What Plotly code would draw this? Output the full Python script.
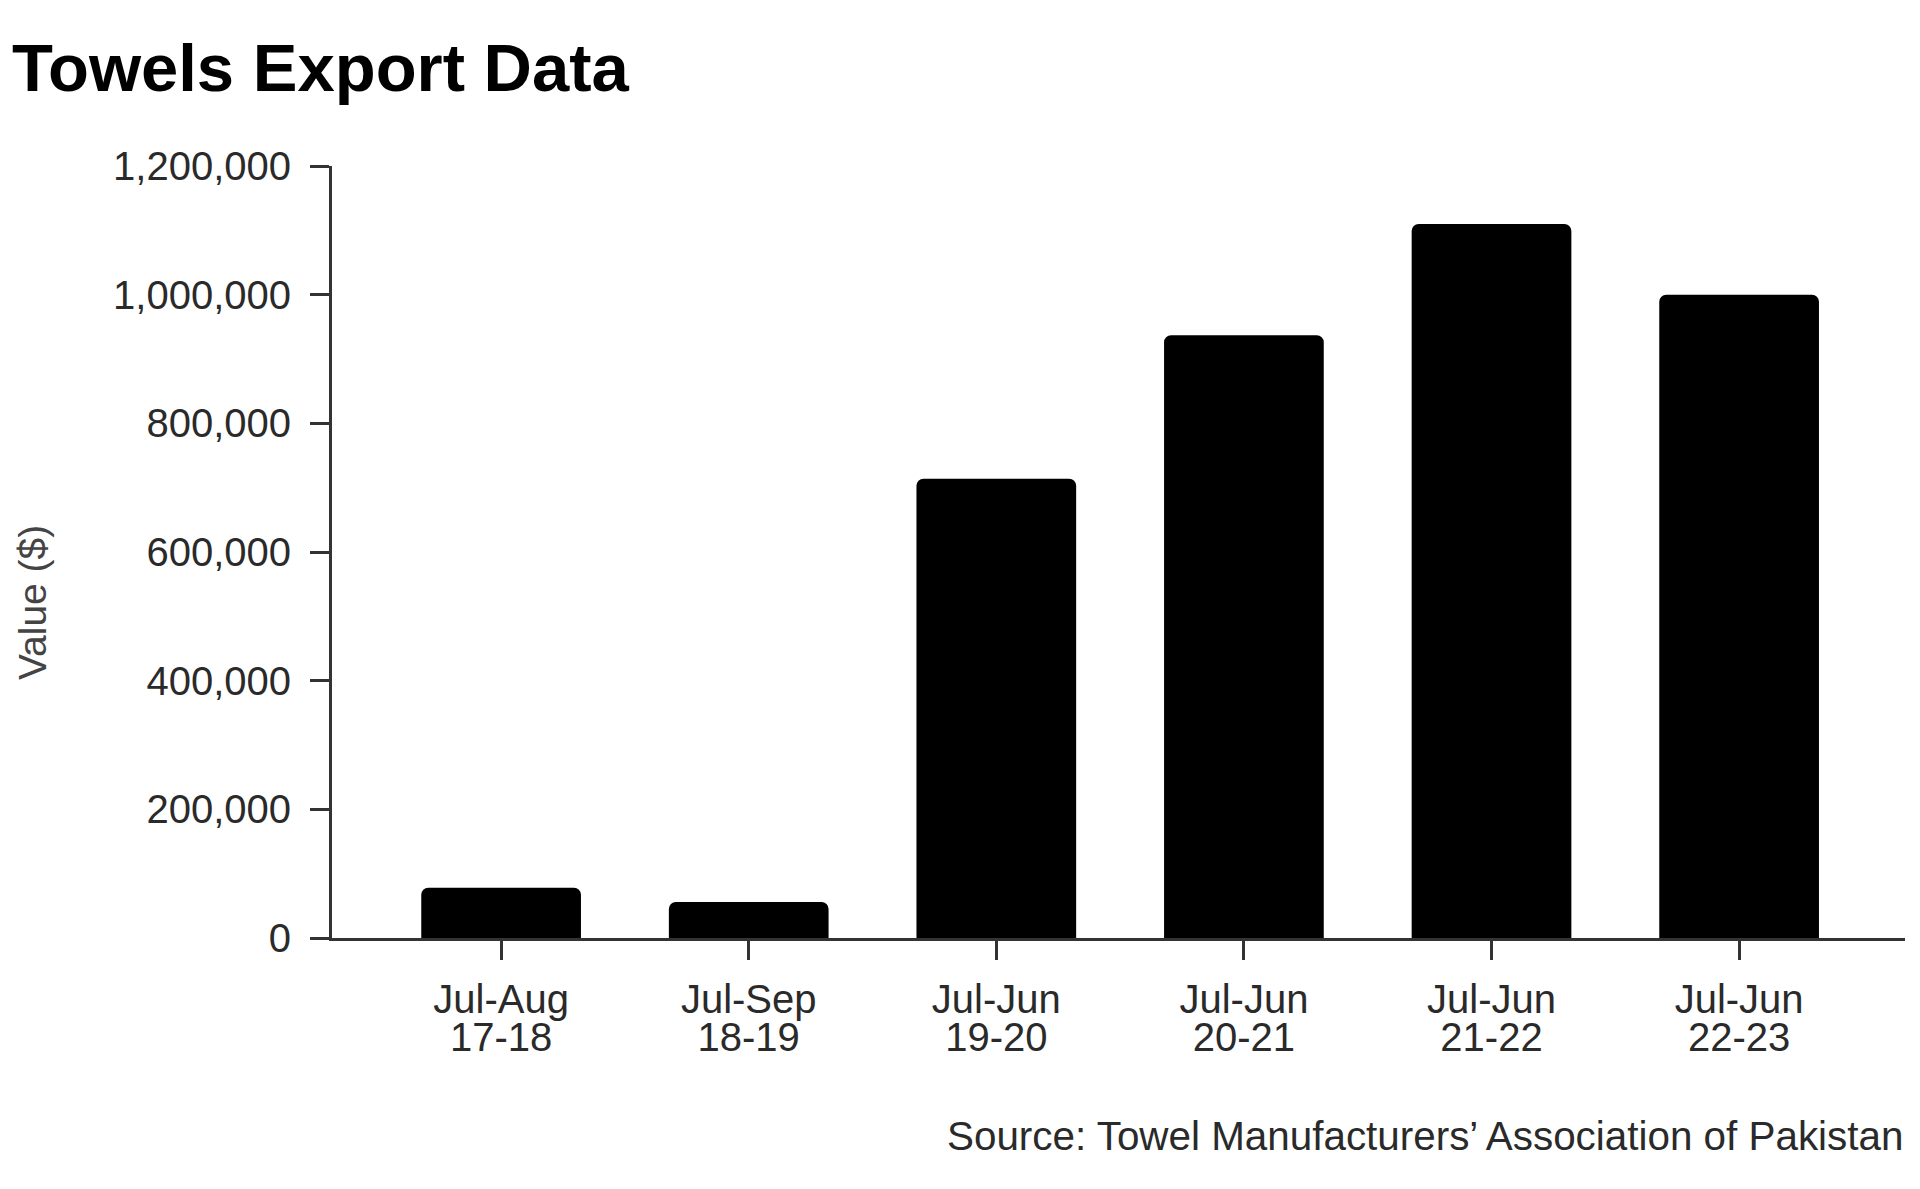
import plotly.graph_objects as go

categories_line1 = ["Jul-Aug", "Jul-Sep", "Jul-Jun", "Jul-Jun", "Jul-Jun", "Jul-Jun"]
categories_line2 = ["17-18", "18-19", "19-20", "20-21", "21-22", "22-23"]
values = [78000, 56000, 714000, 937000, 1110000, 1000000]
y_ticks = [0, 200000, 400000, 600000, 800000, 1000000, 1200000]

positions = list(range(len(values)))
FONT = "Liberation Sans, Arial, sans-serif"
AXIS_COLOR = "#333333"
TEXT_COLOR = "#2a2a2a"
W, H = 1904, 1173

fig = go.Figure()
fig.add_trace(go.Bar(
    x=positions, y=values, width=0.645,
    marker=dict(color="#000000", cornerradius=7, line=dict(width=0)),
    hoverinfo="y", showlegend=False,
))
# invisible helper trace so the second (label-row) axis is drawn
fig.add_trace(go.Scatter(
    x=positions, y=values, xaxis="x2", mode="markers",
    marker=dict(opacity=0, size=1), hoverinfo="skip", showlegend=False,
))

fig.update_layout(
    width=W, height=H,
    margin=dict(l=324, r=7, t=158, b=243),
    paper_bgcolor="white", plot_bgcolor="white",
    font=dict(family=FONT, color=TEXT_COLOR, size=39),
    title=dict(
        text="<b>Towels Export Data</b>",
        font=dict(family=FONT, size=67, color="#000000"),
        x=4 / W, xanchor="left", xref="container",
        y=1 - 59.5 / H, yanchor="middle", yref="container",
    ),
    xaxis=dict(
        range=[-0.683, 5.67], tickmode="array", tickvals=positions,
        ticktext=categories_line1,
        showline=True, linecolor=AXIS_COLOR, linewidth=3,
        ticks="outside", ticklen=19, tickwidth=3, tickcolor=AXIS_COLOR,
        showgrid=False, zeroline=False, ticklabelstandoff=5,
        tickfont=dict(family=FONT, size=40, color=TEXT_COLOR),
        fixedrange=True,
    ),
    xaxis2=dict(
        range=[-0.683, 5.67], overlaying="x", side="bottom", anchor="y",
        tickmode="array", tickvals=positions, ticktext=categories_line2,
        showline=False, ticks="outside", ticklen=59, tickwidth=1,
        tickcolor="rgba(0,0,0,0)",
        showgrid=False, zeroline=False, ticklabelstandoff=5,
        tickfont=dict(family=FONT, size=40, color=TEXT_COLOR),
        fixedrange=True,
    ),
    yaxis=dict(
        range=[0, 1200000], tickmode="array", tickvals=y_ticks,
        tickformat=",d",
        showline=True, linecolor=AXIS_COLOR, linewidth=3,
        ticks="outside", ticklen=19, tickwidth=3, tickcolor=AXIS_COLOR,
        showgrid=False, zeroline=False, ticklabelstandoff=11,
        tickfont=dict(family=FONT, size=40, color=TEXT_COLOR),
        fixedrange=True,
    ),
    annotations=[
        dict(
            text="Value ($)", textangle=-90,
            xref="paper", yref="paper", x=-0.19, y=0.434,
            xanchor="center", yanchor="middle", showarrow=False,
            font=dict(family=FONT, size=39, color="#444444"),
        ),
        dict(
            text="Source: Towel Manufacturers\u2019 Association of Pakistan",
            xref="paper", yref="paper", x=1.0, y=-0.2565,
            xanchor="right", yanchor="middle", showarrow=False,
            font=dict(family=FONT, size=40.4, color=TEXT_COLOR),
        ),
    ],
)

fig.write_html("out.html")
